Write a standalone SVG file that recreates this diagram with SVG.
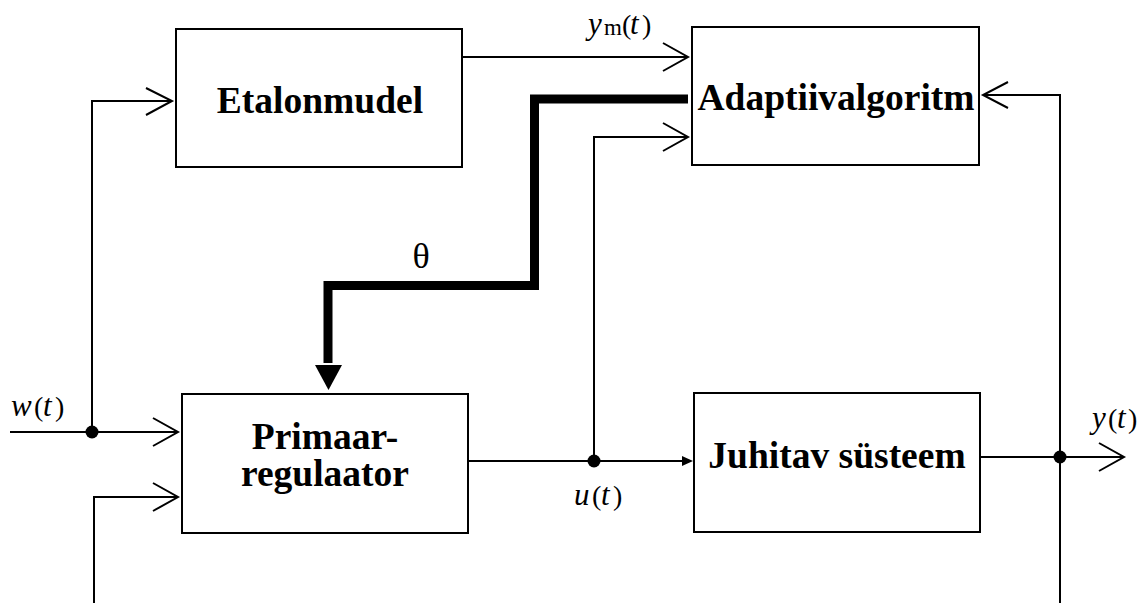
<svg xmlns="http://www.w3.org/2000/svg" width="1143" height="603" viewBox="0 0 1143 603">
  <style>
    .box { fill: #fff; stroke: #000; stroke-width: 2; }
    .title { font-family: "Liberation Serif", "Times New Roman", serif; font-weight: bold; font-size: 37.5px; text-anchor: middle; fill: #000; }
    .wire { fill: none; stroke: #000; stroke-width: 2; }
    .head { fill: none; stroke: #000; stroke-width: 2; stroke-linejoin: miter; }
    .bus { fill: none; stroke: #000; stroke-width: 9; stroke-linejoin: miter; }
    .sig { font-family: "Liberation Serif", "Times New Roman", serif; font-size: 31px; fill: #000; }
    .it { font-style: italic; }
    .par { font-size: 28px; }
    .sub { font-size: 23px; }
    .greek { font-size: 36px; }
  </style>

  <!-- blocks -->
  <g id="etalonmudel">
    <rect class="box" x="176" y="29" width="286" height="138"/>
    <text class="title" x="320" y="113">Etalonmudel</text>
  </g>
  <g id="adaptiivalgoritm">
    <rect class="box" x="692" y="27" width="287" height="138"/>
    <text class="title" x="836" y="110">Adaptiivalgoritm</text>
  </g>
  <g id="primaarregulaator">
    <rect class="box" x="182" y="394" width="286" height="139"/>
    <text class="title" x="325" y="449">Primaar-</text>
    <text class="title" x="325" y="486">regulaator</text>
  </g>
  <g id="juhitav-systeem">
    <rect class="box" x="694" y="393" width="286" height="139"/>
    <text class="title" x="837" y="468">Juhitav süsteem</text>
  </g>

  <!-- signal lines -->
  <g id="connectors">
    <!-- w(t) input and branch to the reference model -->
    <line class="wire" x1="10" y1="432" x2="177" y2="432"/>
    <polyline class="head" points="153,418 178,432 153,446"/>
    <polyline class="wire" points="92,432 92,101 171,101"/>
    <polyline class="head" points="146,88 172,101 146,115"/>
    <circle cx="92" cy="432" r="6.5" fill="#000"/>

    <!-- second regulator input from below -->
    <polyline class="wire" points="94,603 94,497 177,497"/>
    <polyline class="head" points="153,483 178,497 153,511"/>

    <!-- ym(t) -->
    <line class="wire" x1="462" y1="57" x2="687" y2="57"/>
    <polyline class="head" points="663,43 688,57 663,71"/>

    <!-- u(t) -->
    <line class="wire" x1="468" y1="461" x2="684" y2="461"/>
    <polygon points="682,456 693,461 682,466" fill="#000"/>
    <polyline class="wire" points="594,461 594,137 687,137"/>
    <polyline class="head" points="663,123 688,137 663,151"/>
    <circle cx="594" cy="461" r="6.5" fill="#000"/>

    <!-- y(t) output and feedback -->
    <line class="wire" x1="980" y1="457" x2="1123" y2="457"/>
    <polyline class="head" points="1099,443 1124,457 1099,471"/>
    <polyline class="wire" points="1060,603 1060,95 984,95"/>
    <polyline class="head" points="1008,82 983,95 1008,108"/>
    <circle cx="1060" cy="457" r="6.5" fill="#000"/>

    <!-- parameter vector bus -->
    <polyline class="bus" points="688,99 534.5,99 534.5,285.5 328,285.5 328,363"/>
    <polygon points="315,365 342,365 328.5,390" fill="#000"/>
  </g>

  <!-- signal labels -->
  <g id="labels">
    <text class="sig" y="416"><tspan class="it" x="11">w</tspan><tspan class="par" x="34">(</tspan><tspan class="it" x="43">t</tspan><tspan class="par" x="55">)</tspan></text>
    <text class="sig" y="34"><tspan class="it" x="588">y</tspan><tspan class="sub" x="604" y="35">m</tspan><tspan class="par" x="622" y="34">(</tspan><tspan class="it" x="630">t</tspan><tspan class="par" x="642">)</tspan></text>
    <text class="sig" y="505"><tspan class="it" x="574">u</tspan><tspan class="par" x="592">(</tspan><tspan class="it" x="601">t</tspan><tspan class="par" x="613">)</tspan></text>
    <text class="sig" y="428"><tspan class="it" x="1092">y</tspan><tspan class="par" x="1108">(</tspan><tspan class="it" x="1117">t</tspan><tspan class="par" x="1128">)</tspan></text>
    <text class="sig greek" x="421" y="268" text-anchor="middle">θ</text>
  </g>
</svg>
